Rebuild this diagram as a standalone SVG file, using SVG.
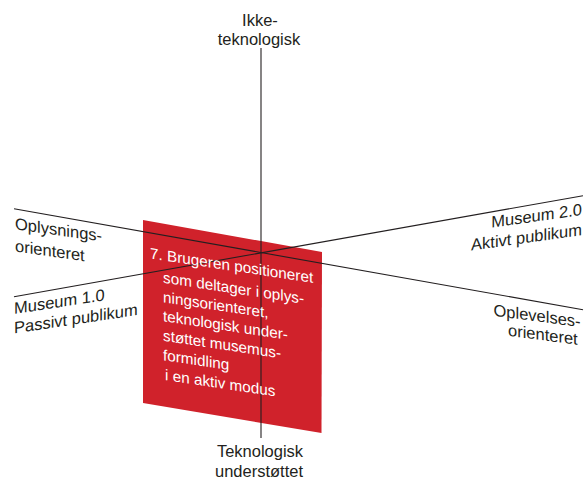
<svg xmlns="http://www.w3.org/2000/svg" width="585" height="479" viewBox="0 0 585 479">
  <style>
    .lbl { font-family: "Liberation Sans", Arial, Helvetica, sans-serif; font-size: 16.5px; fill: #231f20; }
    .mid { text-anchor: middle; }
    .end { text-anchor: end; }
    .inbox { font-family: "Liberation Sans", Arial, Helvetica, sans-serif; font-size: 15.3px; fill: #ffffff; }
    .axis { stroke: #231f20; stroke-width: 1.1; fill: none; }
  </style>

  <!-- highlighted position plane -->
  <g id="plane">
    <polygon points="143,220 322,252 321.5,433 143,403" fill="#d0222b"/>
  </g>

  <!-- the three axes -->
  <g id="connectors">
    <line class="axis" x1="261" y1="48" x2="261" y2="438"/>
    <line class="axis" x1="14" y1="208.7" x2="583" y2="309.7"/>
    <line class="axis" x1="14" y1="296.7" x2="583" y2="195.7"/>
  </g>

  <!-- text on the plane -->
  <g id="plane-text" class="inbox">
    <text transform="translate(150,258.5) skewY(8.5)">7. Brugeren positioneret</text>
    <g transform="translate(163,282.7) skewY(8.5)">
      <text x="0" y="0">som deltager i oplys-</text>
      <text x="0" y="19.5">ningsorienteret,</text>
      <text x="0" y="38.5">teknologisk under-</text>
      <text x="0" y="58">støttet musemus-</text>
      <text x="0" y="77.5">formidling</text>
      <text x="2" y="97">i en aktiv modus</text>
    </g>
  </g>

  <!-- axis end labels -->
  <g id="top-label" class="lbl mid">
    <text x="260" y="25.5">Ikke-</text>
    <text x="259" y="45">teknologisk</text>
  </g>

  <g id="bottom-label" class="lbl mid">
    <text x="260" y="457">Teknologisk</text>
    <text x="259" y="476.5">understøttet</text>
  </g>

  <g id="left-upper-label" class="lbl">
    <text transform="translate(15,229.3) skewY(8)">Oplysnings-</text>
    <text transform="translate(15,251.5) skewY(8)">orienteret</text>
  </g>

  <g id="left-lower-label" class="lbl">
    <text transform="translate(14,314) skewY(-8.5)">Museum 1.0</text>
    <text transform="translate(14,333.5) skewY(-8.5)">Passivt publikum</text>
  </g>

  <g id="right-upper-label" class="lbl end">
    <text transform="translate(582,215) skewY(-8)">Museum 2.0</text>
    <text transform="translate(582,235) skewY(-8)">Aktivt publikum</text>
  </g>

  <g id="right-lower-label" class="lbl">
    <text transform="translate(493.5,315.7) skewY(7.5)">Oplevelses-</text>
    <text transform="translate(508,335.7) skewY(7.5)">orienteret</text>
  </g>
</svg>
